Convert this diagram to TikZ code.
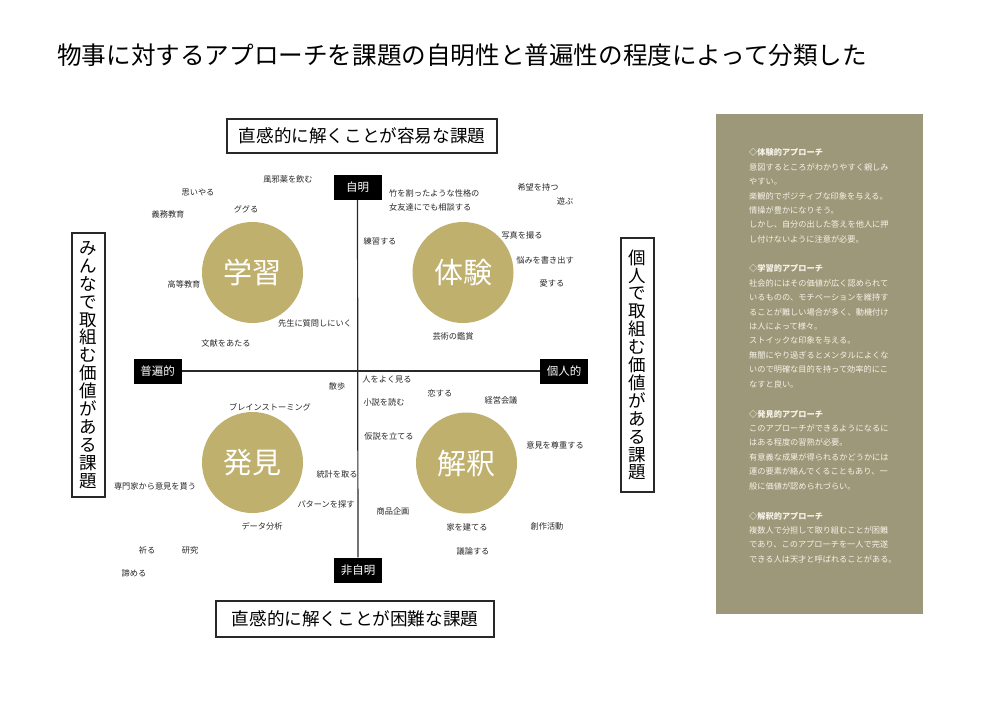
\documentclass[tikz,border=0pt]{standalone}
\usepackage{fontspec}
\setmainfont{Noto Sans CJK JP}
\definecolor{panelc}{RGB}{158,152,122}
\definecolor{paneltext}{RGB}{246,243,233}
\definecolor{goldc}{RGB}{191,176,110}
\definecolor{inkc}{RGB}{40,40,40}
\begin{document}
\begin{tikzpicture}[x=1pt,y=-1pt,
  framebox/.style={draw=inkc, line width=1.1pt, inner sep=0, fill=white},
  vbox/.style={framebox, align=center, font=\fontsize{17.5}{17.9}\selectfont},
  hbox/.style={framebox, font=\fontsize{17.6}{20}\selectfont},
  axlabel/.style={fill=black, text=white, inner sep=0, minimum width=48, minimum height=25, font=\fontsize{11.5}{13}\selectfont},
  axisline/.style={draw=inkc, line width=1.2pt},
  circ/.style={circle, fill=goldc, minimum size=101, inner sep=0, text=white, font=\fontsize{29}{32}\selectfont},
  lbl/.style={inner sep=0, text=inkc, font=\fontsize{8.2}{10}\selectfont},
  paneltxt/.style={inner sep=0, text=paneltext, anchor=base west, text width=180, align=left, font=\fontsize{8.2}{14.4}\selectfont}
]
\useasboundingbox (0,0) rectangle (1000,708);
\fill[white] (0,0) rectangle (1000,708);

% title
\node[anchor=west, inner sep=0, font=\fontsize{24.6}{28}\selectfont] (title) at (57,55) {物事に対するアプローチを課題の自明性と普遍性の程度によって分類した};

% frame boxes
\node[hbox, minimum width=270, minimum height=34] (easy) at (362,136) {直感的に解くことが容易な課題};
\node[hbox, minimum width=278, minimum height=36] (hard) at (355,619) {直感的に解くことが困難な課題};
\node[vbox, minimum width=33, minimum height=264] (minna) at (88.5,365) {み\\ん\\な\\で\\取\\組\\む\\価\\値\\が\\あ\\る\\課\\題};
\node[vbox, minimum width=33, minimum height=254] (kojinbox) at (637.5,365) {個\\人\\で\\取\\組\\む\\価\\値\\が\\あ\\る\\課\\題};

% axes
\node[axlabel] (jimei) at (357.5,187.5) {自明};
\node[axlabel] (hijimei) at (358,570) {非自明};
\node[axlabel] (fuhen) at (157.5,371) {普遍的};
\node[axlabel] (kojin) at (564,371) {個人的};
\draw[axisline] (jimei) -- (hijimei);
\draw[axisline] (fuhen) -- (kojin);

% circles
\node[circ] (gakushu) at (252.5,272.5) {学習};
\node[circ] (taiken) at (463,272.5) {体験};
\node[circ] (hakken) at (252.5,462.5) {発見};
\node[circ] (kaishaku) at (466.5,463) {解釈};

% top-left labels
\node[lbl] (l1) at (288,179) {風邪薬を飲む};
\node[lbl] (l2) at (198,192) {思いやる};
\node[lbl] (l3) at (246,209) {ググる};
\node[lbl] (l4) at (168,214) {義務教育};
\node[lbl] (l5) at (184,284) {高等教育};
\node[lbl] (l6) at (315,323) {先生に質問しにいく};
\node[lbl] (l7) at (226,343) {文献をあたる};

% top-right labels
\node[lbl, anchor=west, align=left, font=\fontsize{8.2}{14}\selectfont] (r1) at (389,200) {竹を割ったような性格の\\女友達にでも相談する};
\node[lbl] (r2) at (538,187) {希望を持つ};
\node[lbl] (r3) at (565,201) {遊ぶ};
\node[lbl] (r4) at (380,241) {練習する};
\node[lbl] (r5) at (522,235) {写真を撮る};
\node[lbl] (r6) at (545,260) {悩みを書き出す};
\node[lbl] (r7) at (552,283) {愛する};
\node[lbl] (r8) at (453,336) {芸術の鑑賞};

% bottom-left labels
\node[lbl] (b1) at (337,386) {散歩};
\node[lbl] (b2) at (270,407) {ブレインストーミング};
\node[lbl] (b3) at (337,474) {統計を取る};
\node[lbl] (b4) at (155,486) {専門家から意見を貰う};
\node[lbl] (b5) at (326,504) {パターンを探す};
\node[lbl] (b6) at (262,526) {データ分析};
\node[lbl] (b7) at (147,550) {祈る};
\node[lbl] (b8) at (190,550) {研究};
\node[lbl] (b9) at (134,573) {諦める};

% bottom-right labels
\node[lbl] (k1) at (387,380) {人をよく見る};
\node[lbl] (k2) at (440,393) {恋する};
\node[lbl] (k3) at (384,402) {小説を読む};
\node[lbl] (k4) at (501,400) {経営会議};
\node[lbl] (k5) at (389,436) {仮説を立てる};
\node[lbl] (k6) at (555,445) {意見を尊重する};
\node[lbl] (k7) at (393,511) {商品企画};
\node[lbl] (k8) at (467,527) {家を建てる};
\node[lbl] (k9) at (547,526) {創作活動};
\node[lbl] (k10) at (473,551) {議論する};

% right panel
\node[fill=panelc, inner sep=0, minimum width=207, minimum height=500] (panel) at (819.5,364) {};
\node[paneltxt] (p1) at (749,156) {\textbf{◇体験的アプローチ}\\意図するところがわかりやすく親しみ\\やすい。\\楽観的でポジティブな印象を与える。\\情操が豊かになりそう。\\しかし、自分の出した答えを他人に押\\し付けないように注意が必要。};
\node[paneltxt] (p2) at (749,272) {\textbf{◇学習的アプローチ}\\社会的にはその価値が広く認められて\\いるものの、モチベーションを維持す\\ることが難しい場合が多く、動機付け\\は人によって様々。\\ストイックな印象を与える。\\無闇にやり過ぎるとメンタルによくな\\いので明確な目的を持って効率的にこ\\なすと良い。};
\node[paneltxt] (p3) at (749,417) {\textbf{◇発見的アプローチ}\\このアプローチができるようになるに\\はある程度の習熟が必要。\\有意義な成果が得られるかどうかには\\運の要素が絡んでくることもあり、一\\般に価値が認められづらい。};
\node[paneltxt] (p4) at (749,519) {\textbf{◇解釈的アプローチ}\\複数人で分担して取り組むことが困難\\であり、このアプローチを一人で完遂\\できる人は天才と呼ばれることがある。};
\end{tikzpicture}
\end{document}
